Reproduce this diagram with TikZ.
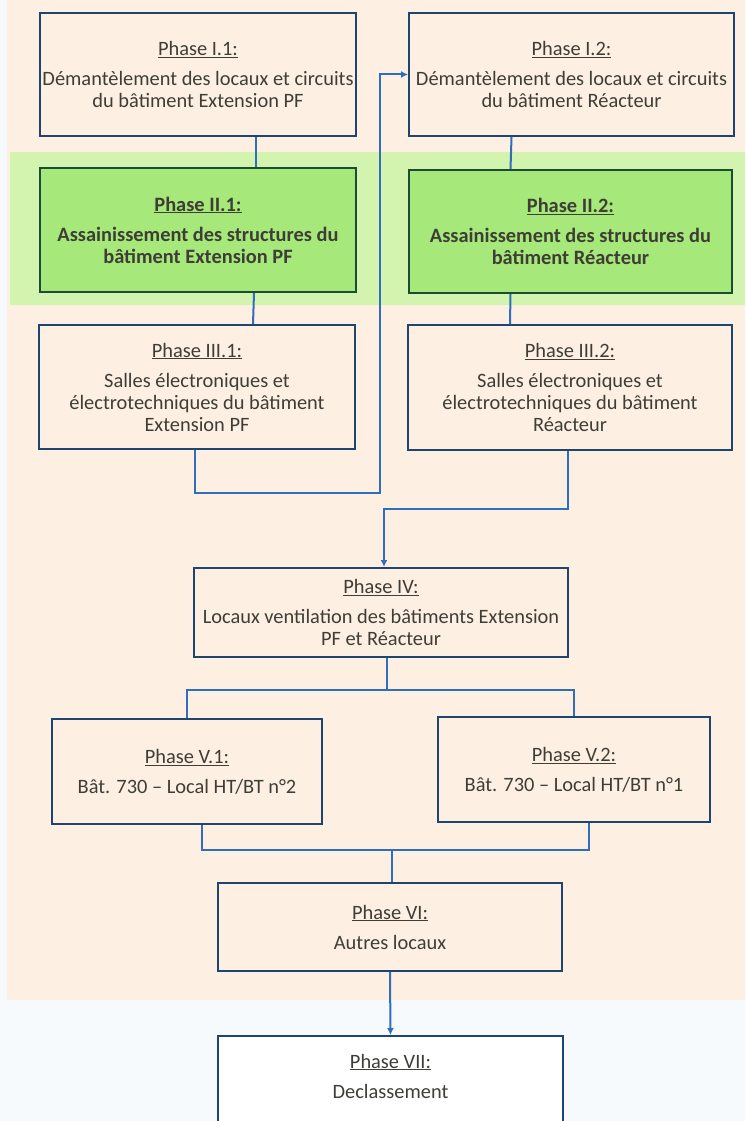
\documentclass[tikz,border=0pt]{standalone}
\usepackage{fontspec}
\setmainfont{Carlito}
\usetikzlibrary{arrows.meta}
\definecolor{peach}{HTML}{FDEFE2}
\definecolor{paper}{HTML}{F6FAFC}
\definecolor{bandgreen}{HTML}{D3F4AE}
\definecolor{boxgreen}{HTML}{A6E87A}
\definecolor{boxline}{HTML}{1D4570}
\definecolor{greenline}{HTML}{1B4D35}
\definecolor{linkblue}{HTML}{2F6EBD}
\definecolor{textgray}{HTML}{3E3E36}

\begin{document}
\begin{tikzpicture}[x=1pt,y=-1pt]
            \tikzstyle{phase}=[draw=boxline,line width=2pt,fill=peach,align=center,inner sep=0pt,text=textgray,font=\fontsize{20.4}{22}\selectfont]
            \tikzstyle{cleanup}=[phase,draw=greenline,fill=boxgreen,font=\fontsize{20.4}{22}\selectfont\bfseries]
            \tikzstyle{link}=[draw=linkblue,line width=2pt]
            \tikzstyle{arrow}=[link,-{Latex[length=7pt,width=7pt]}]
            \clip (0,0) rectangle (745,1121);
            % background bands
            \fill[paper] (0,0) rectangle (745,1121);
            \fill[peach] (7,0) rectangle (745,1000);
            \fill[bandgreen] (10,152) rectangle (745,305);
            % phases I to III
            \node[phase,minimum width=316pt,minimum height=123pt] (I1) at (198,74.5)
                {\underline{Phase I.1:}\\[8pt]Démantèlement  des locaux et circuits\\du bâtiment Extension PF};
            \node[phase,minimum width=325pt,minimum height=123pt] (I2) at (571.5,74.5)
                {\underline{Phase I.2:}\\[8pt]Démantèlement  des locaux et circuits\\du bâtiment Réacteur};
            \node[cleanup,minimum width=316pt,minimum height=124pt] (II1) at (198,230)
                {\underline{Phase II.1:}\\[8pt]Assainissement des structures du\\bâtiment Extension PF};
            \node[cleanup,minimum width=323pt,minimum height=123pt] (II2) at (570.5,231.5)
                {\underline{Phase II.2:}\\[8pt]Assainissement des structures du\\bâtiment Réacteur};
            \node[phase,minimum width=316pt,minimum height=124pt] (III1) at (197,387)
                {\underline{Phase III.1:}\\[8pt]Salles électroniques et\\électrotechniques du bâtiment\\Extension PF};
            \node[phase,minimum width=324pt,minimum height=125pt] (III2) at (570,387.5)
                {\underline{Phase III.2:}\\[8pt]Salles électroniques et\\électrotechniques du bâtiment\\Réacteur};
            % phases IV to VII
            \node[phase,minimum width=374pt,minimum height=89pt] (IV) at (381,612.5)
                {\underline{Phase IV:}\\[8pt]Locaux ventilation des bâtiments Extension\\PF et Réacteur};
            \node[phase,minimum width=270pt,minimum height=105pt] (V1) at (187,771.5)
                {\underline{Phase V.1:}\\[8pt]Bât. 730 – Local HT/BT n°2};
            \node[phase,minimum width=272pt,minimum height=105pt] (V2) at (574,769.5)
                {\underline{Phase V.2:}\\[8pt]Bât. 730 – Local HT/BT n°1};
            \node[phase,minimum width=344pt,minimum height=88pt] (VI) at (390,927)
                {\underline{Phase VI:}\\[8pt]Autres locaux};
            \node[phase,fill=white,minimum width=345pt,minimum height=104pt] (VII) at (390.5,1088)
                {\underline{Phase VII:}\\[8pt]Declassement\\[2pt]};
            % connectors
            \draw[link] ([xshift=58pt]I1.south) -- ([xshift=58pt]II1.north);
            \draw[link] ([xshift=56pt]II1.south) -- ([xshift=56pt]III1.north);
            \draw[link] ([xshift=-60pt]I2.south) -- ([xshift=-60pt]II2.north);
            \draw[link] ([xshift=-60pt]II2.south) -- ([xshift=-60pt]III2.north);
            \coordinate (loop) at (380,493);
            \draw[arrow] ([xshift=-2pt]III1.south) |- (loop) |- (I2.west);
            \coordinate (merge) at (384,509);
            \draw[arrow] ([xshift=-2pt]III2.south) |- (merge) -- (merge |- IV.north);
            \coordinate (split) at (387,690);
            \draw[link] ([xshift=6pt]IV.south) -- (split);
            \draw[link] (V1.north) |- (split) -| (V2.north);
            \coordinate (join) at (392,850);
            \draw[link] ([xshift=15pt]V1.south) |- (join) -| ([xshift=15pt]V2.south);
            \draw[link] (join) -- (join |- VI.north);
            \draw[arrow] (VI.south) -- (VII.north);
\end{tikzpicture}
\end{document}
